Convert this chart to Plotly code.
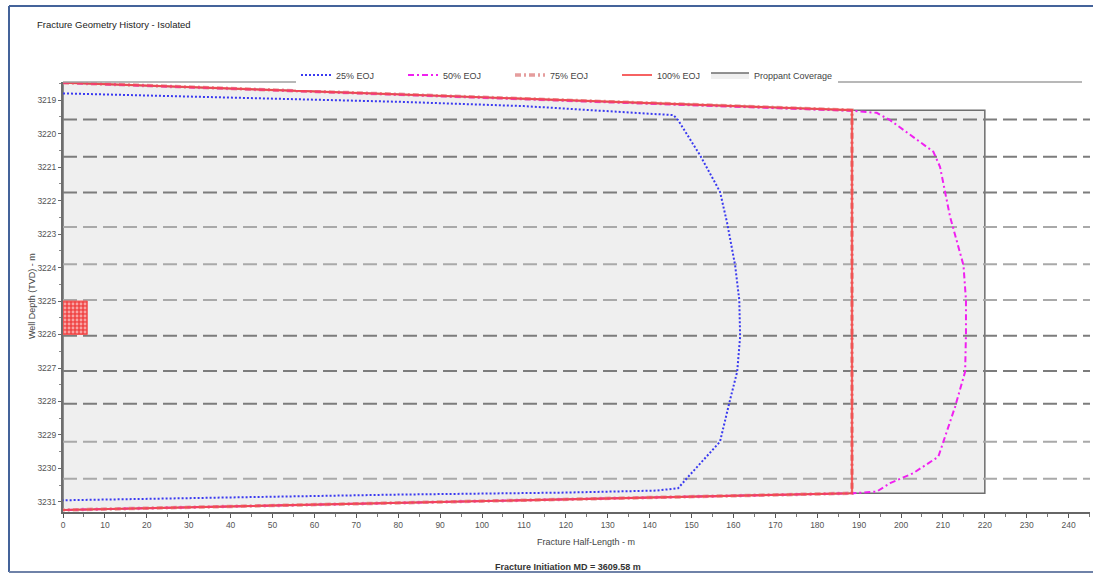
import plotly.graph_objects as go

# ---- data -------------------------------------------------------------
# 25% EOJ fracture outline (half-length m, depth m)
x25 = [0, 40, 80, 110, 138.5, 145.7, 146.8, 152.0, 156.8, 158.5, 160.4, 161.4,
       161.6, 160.9, 159.0, 156.8, 148.9, 146.8, 141.7, 120, 80, 50, 28, 5, 0]
d25 = [3218.80, 3218.93, 3219.05, 3219.18, 3219.38, 3219.45, 3219.60, 3220.64,
       3221.74, 3222.67, 3223.93, 3224.97, 3226.07, 3227.11, 3228.05, 3229.20,
       3230.29, 3230.59, 3230.66, 3230.72, 3230.78, 3230.84, 3230.88, 3230.93, 3230.95]

# 50% EOJ fracture outline
x50 = [0, 188.2, 194.2, 197.4, 207.7, 209.3, 211.7, 214.9, 215.5, 215.5, 215.3,
       212.9, 208.9, 202.9, 197.4, 194.2, 188.6, 0]
d50 = [3218.48, 3219.32, 3219.38, 3219.60, 3220.54, 3220.99, 3222.48, 3223.93,
       3224.97, 3225.96, 3227.11, 3228.16, 3229.65, 3230.14, 3230.44, 3230.69,
       3230.74, 3231.24]

# 75% and 100% EOJ fracture outlines
x75 = [0, 188.3, 188.3, 0]
d75 = [3218.48, 3219.30, 3230.74, 3231.24]
x100 = [0, 188.3, 188.3, 0]
d100 = [3218.48, 3219.30, 3230.74, 3231.24]

# propped area
x_prop = [0, 188.3, 220, 220, 188.3, 0]
d_prop = [3218.48, 3219.30, 3219.30, 3230.74, 3230.74, 3231.24]

# perforated interval
x_perf = [0, 5.8]
d_perf = [3225.0, 3226.0]

# layer boundaries (depth m)
layers_dark = [3219.58, 3220.69, 3221.76, 3226.04, 3227.09, 3228.07]
layers_light = [3222.79, 3223.90, 3224.97, 3229.20, 3230.31]

depth_ticks = list(range(3219, 3232))
x_ticks = list(range(0, 250, 10))

X_MAX = 245.1
D_TOP, D_BOT = 3218.46, 3231.30

# ---- layout helpers ----------------------------------------------------
W, H = 1093, 574
ML, MR, MT, MB = 63, 3, 82, 62
PW, PH = W - ML - MR, H - MT - MB


def px(x):
    return (x - ML) / PW


def py(y):
    return (H - MB - y) / PH


FONT = "Liberation Sans, Arial, sans-serif"

fig = go.Figure()

# proppant coverage (drawn first, underneath everything)
fig.add_trace(go.Scatter(
    x=x_prop + [x_prop[0]], y=d_prop + [d_prop[0]], mode="lines", fill="toself",
    fillcolor="#efefef", line=dict(color="#6e6e6e", width=1.5),
    name="Proppant Coverage", legend="legend2", hoverinfo="skip"))


def layer_lines(depths):
    xs, ys = [], []
    for d in depths:
        xs += [0, X_MAX, None]
        ys += [d, d, None]
    return xs, ys


for depths, col in ((layers_light, "#a9a9a9"), (layers_dark, "#7c7c7c")):
    lx, ly = layer_lines(depths)
    fig.add_trace(go.Scatter(x=lx, y=ly, mode="lines", showlegend=False,
                             line=dict(color=col, width=2, dash="14px,6px"),
                             hoverinfo="skip"))

# perforations
fig.add_trace(go.Scatter(
    x=[x_perf[0], x_perf[1], x_perf[1], x_perf[0], x_perf[0]],
    y=[d_perf[0], d_perf[0], d_perf[1], d_perf[1], d_perf[0]],
    mode="lines", fill="toself", showlegend=False,
    fillcolor="rgb(240,70,70)",
    fillpattern=dict(shape=".", fgcolor="white", bgcolor="rgb(240,70,70)",
                     size=4, solidity=0.4),
    line=dict(color="rgb(240,90,90)", width=1), hoverinfo="skip"))

fig.add_trace(go.Scatter(
    x=x75, y=d75, mode="lines", name="75% EOJ", legendrank=3,
    line=dict(color="rgba(225,140,140,0.85)", width=3.5, dash="6px,3px,2px,3px")))

fig.add_trace(go.Scatter(
    x=x50, y=d50, mode="lines", name="50% EOJ", legendrank=2,
    line=dict(color="#f020f0", width=2, dash="6px,3px,2px,3px")))

fig.add_trace(go.Scatter(
    x=x25, y=d25, mode="lines", name="25% EOJ", legendrank=1,
    line=dict(color="#3a3af0", width=2, dash="2px,2px")))

fig.add_trace(go.Scatter(
    x=x100, y=d100, mode="lines", name="100% EOJ", legendrank=4,
    line=dict(color="rgba(245,70,70,0.85)", width=2.2)))

legend_common = dict(orientation="h", xanchor="left", y=py(75), yanchor="middle",
                     bgcolor="white", borderwidth=0,
                     font=dict(size=9, color="#444", family=FONT))

fig.update_layout(
    width=W, height=H, autosize=False,
    margin=dict(l=ML, r=MR, t=MT, b=MB),
    paper_bgcolor="white", plot_bgcolor="white",
    font=dict(family=FONT, size=9, color="#444"),
    showlegend=True,
    legend=dict(x=px(296), entrywidthmode="pixels", entrywidth=62, itemwidth=30,
                **legend_common),
    legend2=dict(x=px(706), itemwidth=38, **legend_common),
    xaxis=dict(range=[0, X_MAX], tickvals=x_ticks, showgrid=False, zeroline=False,
               showline=True, linecolor="#666", linewidth=1.5,
               ticks="outside", ticklen=4, tickcolor="#555", tickwidth=1,
               minor=dict(dtick=5, tick0=0, ticks="outside", ticklen=3,
                          tickcolor="#777"),
               tickfont=dict(size=8.5, color="#555")),
    yaxis=dict(range=[D_BOT, D_TOP], tickvals=depth_ticks, showgrid=False,
               zeroline=False, showline=True, linecolor="#6e6e6e", linewidth=2,
               ticks="outside", ticklen=3, tickcolor="#666",
               minor=dict(dtick=0.5, tick0=3219, ticks="outside", ticklen=2,
                          tickcolor="#888"),
               tickfont=dict(size=8.5, color="#555")),
)

annotations = [
    dict(text="Fracture Geometry History - Isolated", x=px(35), y=py(25),
         xanchor="left", yanchor="middle", font=dict(size=9.5, color="#222")),
    dict(text="Fracture Half-Length - m", x=px(586), y=py(542),
         xanchor="center", yanchor="middle", font=dict(size=9, color="#444")),
    dict(text="<b>Fracture Initiation MD = 3609.58 m</b>", x=px(568), y=py(567),
         xanchor="center", yanchor="middle", font=dict(size=9, color="#333")),
    dict(text="Well Depth (TVD) - m", x=px(32), y=py(296), textangle=-90,
         xanchor="center", yanchor="middle", font=dict(size=9, color="#444")),
]
for a in annotations:
    a.update(xref="paper", yref="paper", showarrow=False)
fig.update_layout(annotations=annotations)

# plot top border (light) and outer frame (left, top, bottom edges)
fig.add_shape(type="line", xref="paper", yref="paper", x0=0, x1=px(1082),
              y0=1, y1=1, line=dict(color="#a0a0a0", width=1.5))
frame = dict(color="#44639a", width=2)
fig.add_shape(type="line", xref="paper", yref="paper", x0=px(9), x1=px(9),
              y0=py(572), y1=py(6), line=frame)
fig.add_shape(type="line", xref="paper", yref="paper", x0=px(9), x1=px(1093),
              y0=py(6), y1=py(6), line=frame)
fig.add_shape(type="line", xref="paper", yref="paper", x0=px(9), x1=px(1093),
              y0=py(572), y1=py(572), line=dict(color="#6f82a8", width=2))

fig.write_html("out.html")
